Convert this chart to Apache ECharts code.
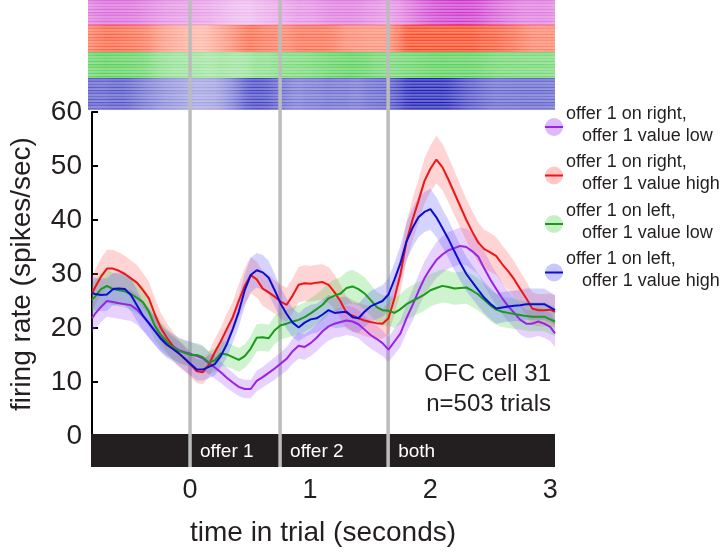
<!DOCTYPE html>
<html><head><meta charset="utf-8">
<script src="https://cdn.jsdelivr.net/npm/echarts@6/dist/echarts.min.js"></script>
<style>html,body{margin:0;padding:0;background:#fff}#c{width:723px;height:552px}</style>
</head><body><div id="c"></div>
<script>
// ---- data ----
const times = [-0.825,-0.8,-0.75,-0.7,-0.65,-0.6,-0.55,-0.5,-0.45,-0.4,-0.35,-0.3,-0.25,-0.2,-0.15,-0.1,-0.05,
0,0.05,0.1,0.15,0.2,0.25,0.3,0.35,0.4,0.45,0.5,0.55,0.6,0.65,0.7,0.75,0.8,0.85,0.9,0.95,
1,1.05,1.1,1.15,1.2,1.25,1.3,1.35,1.4,1.45,1.5,1.55,1.6,1.65,1.7,1.75,1.8,1.85,1.9,1.95,
2,2.05,2.1,2.15,2.2,2.25,2.3,2.35,2.4,2.45,2.5,2.55,2.6,2.65,2.7,2.75,2.8,2.85,2.9,2.95,3,3.04];

const seriesNames = ['offer 1 on right, offer 1 value low','offer 1 on right, offer 1 value high',
                     'offer 1 on left, offer 1 value low','offer 1 on left, offer 1 value high'];
const legendLine1 = ['offer 1 on right,','offer 1 on right,','offer 1 on left,','offer 1 on left,'];
const legendLine2 = ['offer 1 value low','offer 1 value high','offer 1 value low','offer 1 value high'];

const rightLow = [21.8,22.6,23.9,25.0,24.8,24.6,24.4,24.2,23.4,22.2,20.9,19.5,18.2,17.2,16.6,15.9,15.5,
15.2,14.8,14.4,13.5,12.7,11.8,10.8,9.9,9.1,8.7,
8.7,10.2,10.9,11.7,12.5,13.4,14.3,15.7,16.7,16.5,
17.2,18.2,19.4,20.3,20.8,21.1,21.4,21.2,20.7,19.7,
18.7,18.0,17.2,16.0,17.5,19.0,21.8,24.2,26.8,29.2,
31.0,32.6,33.6,34.4,34.8,35.2,35.0,34.2,33.2,31.0,
29.0,27.2,25.5,24.0,22.8,21.5,20.8,20.8,21.2,20.8,
20.2,19.0];
const rightLowSem = [2.7,2.8,2.8,2.9,2.9,2.9,2.9,2.9,2.8,2.7,2.7,2.6,2.5,2.4,2.4,2.3,2.3,
2.3,2.2,2.2,2.1,2.1,2.0,1.9,1.8,1.7,1.7,
1.7,1.9,1.9,2.0,2.1,2.1,2.2,2.3,2.4,2.4,
2.4,2.5,2.6,2.6,2.6,2.7,2.7,2.7,2.6,2.6,
2.5,2.5,2.4,2.3,2.4,2.5,2.7,2.9,3.0,3.1,
3.2,3.3,3.4,3.4,3.4,3.4,3.4,3.4,3.3,3.2,
3.1,3.0,2.9,2.8,2.8,2.7,2.6,2.6,2.7,2.6,
2.6,2.5];

const rightHigh = [26.4,27.5,29.5,31.0,31.0,30.6,30.0,29.2,28.4,27.0,25.5,22.5,20.0,18.2,16.7,15.3,14.3,
13.2,12.0,11.8,13.2,15.5,17.5,19.8,22.0,25.0,27.8,
29.8,29.0,27.3,26.6,25.8,24.9,24.3,26.0,28.0,28.3,
28.2,28.4,28.5,28.0,26.6,24.9,22.8,22.3,21.8,21.4,
21.1,20.9,20.8,21.8,25.5,30.0,36.0,40.0,43.5,47.2,
49.5,51.2,49.8,47.5,45.0,42.5,40.0,37.8,35.8,34.6,
34.0,33.3,31.8,30.5,29.0,27.2,25.5,23.6,23.3,23.3,
23.4,23.0];
const rightHighSem = [3.2,3.2,3.4,3.5,3.5,3.4,3.4,3.3,3.3,3.2,3.1,3.0,2.8,2.7,2.6,2.5,2.4,
2.3,2.2,2.2,2.3,2.5,2.6,2.8,2.9,3.1,3.3,
3.4,3.3,3.2,3.2,3.1,3.1,3.1,3.2,3.3,3.3,
3.3,3.3,3.3,3.3,3.2,3.1,3.0,2.9,2.9,2.9,
2.9,2.9,2.8,2.9,3.1,3.4,3.7,3.9,4.0,4.2,
4.3,4.4,4.3,4.2,4.1,4.0,3.9,3.8,3.7,3.6,
3.6,3.5,3.5,3.4,3.3,3.2,3.1,3.0,3.0,3.0,
3.0,3.0];

const leftLow = [25.2,25.8,27.2,27.8,27.2,27.0,26.8,26.3,25.6,24.8,23.0,20.4,18.7,17.5,16.4,15.8,15.4,
15.0,15.0,14.6,13.6,14.0,15.3,15.1,14.6,14.1,14.8,
16.2,18.2,18.3,18.1,19.6,20.5,20.8,21.2,21.5,22.0,
22.7,23.5,24.3,25.5,26.0,26.4,27.4,27.7,27.2,26.4,
25.2,23.9,23.3,23.2,22.8,23.5,24.4,25.0,25.6,26.2,
27.0,27.4,27.8,27.6,27.3,27.4,27.5,26.9,26.2,25.2,
24.2,23.4,23.0,22.8,22.6,22.4,22.2,22.1,22.1,22.1,
21.6,21.2];
const leftLowSem = [2.9,2.9,3.0,3.1,3.0,3.0,3.0,3.0,2.9,2.9,2.8,2.6,2.5,2.4,2.3,2.3,2.3,
2.2,2.2,2.2,2.1,2.2,2.3,2.3,2.2,2.2,2.2,
2.3,2.5,2.5,2.5,2.6,2.6,2.6,2.7,2.7,2.7,
2.8,2.8,2.9,2.9,3.0,3.0,3.0,3.1,3.0,3.0,
2.9,2.8,2.8,2.8,2.8,2.8,2.9,2.9,2.9,3.0,
3.0,3.0,3.1,3.0,3.0,3.0,3.0,3.0,3.0,2.9,
2.9,2.8,2.8,2.8,2.8,2.7,2.7,2.7,2.7,2.7,
2.7,2.7];

const leftHigh = [26.5,26.3,26.1,26.2,27.2,27.3,27.2,26.1,24.2,22.3,20.9,19.4,18.0,16.9,16.1,15.3,14.3,
13.3,12.3,12.3,12.8,13.3,14.8,17.0,19.8,23.0,27.0,
29.8,30.7,30.3,29.3,27.0,24.5,22.6,21.0,20.1,21.0,
21.6,21.8,22.5,23.3,22.8,22.9,23.0,22.0,21.8,23.0,
24.0,24.5,25.0,26.2,29.0,32.0,36.0,38.5,40.5,41.5,
42.0,40.5,38.5,36.5,34.2,32.0,30.0,28.5,27.0,25.6,
24.5,23.6,23.8,24.0,24.1,24.2,24.4,24.4,24.4,24.4,
23.8,23.3];
const leftHighSem = [3.0,3.0,3.0,3.0,3.0,3.0,3.0,3.0,2.9,2.7,2.7,2.6,2.5,2.4,2.3,2.3,2.2,
2.1,2.0,2.0,2.1,2.1,2.2,2.4,2.6,2.8,3.0,
3.2,3.2,3.2,3.1,3.0,2.9,2.8,2.7,2.6,2.7,
2.7,2.7,2.8,2.8,2.8,2.8,2.8,2.7,2.7,2.8,
2.8,2.9,2.9,3.0,3.1,3.3,3.5,3.6,3.7,3.7,
3.8,3.7,3.6,3.5,3.4,3.3,3.2,3.1,3.0,2.9,
2.9,2.8,2.8,2.8,2.8,2.9,2.9,2.9,2.9,2.9,
2.8,2.8];

const eventTimes = [0, 0.75, 1.65];
const epochLabels = ['', 'offer 1', 'offer 2', 'both'];
const xTickValues = [0, 1, 2, 3];
const cellLabel = ['OFC cell 31', 'n=503 trials'];

// ---- styling ----
const X_MIN = -0.825, X_MAX = 3.04, RASTER_MIN = -0.85;
const FONT = '"Liberation Sans", Arial, Helvetica, sans-serif';
const TXT = '#231f20';
const means = [rightLow, rightHigh, leftLow, leftHigh];
const sems = [rightLowSem, rightHighSem, leftLowSem, leftHighSem];
const lineColors = ['#9a22e8', '#f01414', '#1a9a1a', '#0c0cd2'];
const bandColors = ['rgba(170,90,255,0.28)', 'rgba(255,90,90,0.26)', 'rgba(70,205,70,0.26)', 'rgba(90,90,255,0.26)'];
const iconColors = ['#dcbaf8', '#ffc8c8', '#c6efc6', '#c8c8ff'];
const rasterRGB = [[200, 30, 200], [255, 60, 20], [30, 190, 30], [20, 20, 180]];
const rasterEdges = [0, 25, 52, 78, 110];   // pixel rows of the raster bands
const rowFactors = [1, 0.8, 0.93, 0.7, 0.88, 0.76, 0.97, 0.68];

const chart = echarts.init(document.getElementById('c'), null, {renderer: 'canvas'});
const series = [];

// raster (density shown from the same condition's rate)
series.push({
  type: 'custom', xAxisIndex: 1, yAxisIndex: 1, z: 1, silent: true, animation: false,
  data: [[0, 0], [0, 1], [0, 2], [0, 3]],
  renderItem: function (params, api) {
    const b = api.value(1);
    const rates = means[b];
    const c = rasterRGB[b];
    const yTop = api.coord([0, rasterEdges[b]])[1], yBot = api.coord([0, rasterEdges[b + 1]])[1];
    const xL = api.coord([RASTER_MIN, 0])[0], xR = api.coord([X_MAX, 0])[0];
    const children = [];
    const rowH = 1.5;
    let r = 0;
    for (let y = yTop; y < yBot - 0.01; y += rowH, r++) {
      const f = rowFactors[r % rowFactors.length];
      const stops = times.map((t, i) => {
        const op = Math.min(0.95, 0.1 + rates[i] / 44) * f;
        return {offset: (api.coord([t, 0])[0] - xL) / (xR - xL), color: 'rgba(' + c[0] + ',' + c[1] + ',' + c[2] + ',' + op.toFixed(3) + ')'};
      });
      stops.unshift({offset: 0, color: stops[0].color});
      children.push({type: 'rect', shape: {x: xL, y: y, width: xR - xL, height: Math.min(rowH, yBot - y)},
        style: {fill: {type: 'linear', x: 0, y: 0, x2: 1, y2: 0, colorStops: stops, global: false}}});
    }
    return {type: 'group', children: children};
  }
});

// epoch bar
const epochStarts = [X_MIN].concat(eventTimes);
const epochEnds = eventTimes.concat([X_MAX]);
series.push({
  type: 'custom', xAxisIndex: 2, yAxisIndex: 2, z: 1, silent: true, animation: false,
  data: epochStarts.map((s, i) => [s, epochEnds[i], i]),
  renderItem: function (params, api) {
    const i = api.value(2);
    const p0 = api.coord([api.value(0), 1]), p1 = api.coord([api.value(1), 0]);
    const children = [{type: 'rect', shape: {x: p0[0], y: p0[1], width: p1[0] - p0[0], height: p1[1] - p0[1]}, style: {fill: '#231f20'}}];
    if (epochLabels[i]) {
      children.push({type: 'text', x: p0[0] + 10, y: (p0[1] + p1[1]) / 2 + 1,
        style: {text: epochLabels[i], fill: '#ffffff', font: '19px ' + FONT, verticalAlign: 'middle', align: 'left'}});
    }
    return {type: 'group', children: children};
  }
});

// event lines
series.push({
  type: 'custom', xAxisIndex: 3, yAxisIndex: 3, z: 3, silent: true, animation: false,
  data: eventTimes.map(t => [t, 0]),
  renderItem: function (params, api) {
    const top = api.coord([api.value(0), 1]), bot = api.coord([api.value(0), 0]);
    return {type: 'line', shape: {x1: top[0], y1: top[1], x2: bot[0], y2: bot[1]},
      style: {stroke: '#bcbcbc', lineWidth: 3.5}};
  }
});

// error bands
means.forEach((m, k) => {
  series.push({
    type: 'custom', xAxisIndex: 0, yAxisIndex: 0, z: 4, silent: true, animation: false,
    data: [[0, 0]],
    renderItem: function (params, api) {
      const pts = [];
      for (let i = 0; i < times.length; i++) pts.push(api.coord([times[i], m[i] + sems[k][i]]));
      for (let i = times.length - 1; i >= 0; i--) pts.push(api.coord([times[i], m[i] - sems[k][i]]));
      return {type: 'polygon', shape: {points: pts}, style: {fill: bandColors[k]}};
    }
  });
});

// mean lines
means.forEach((m, k) => {
  series.push({
    type: 'line', name: seriesNames[k], xAxisIndex: 0, yAxisIndex: 0, z: 5, animation: false,
    showSymbol: false, symbol: 'none',
    lineStyle: {color: lineColors[k], width: 2},
    data: times.map((t, i) => [t, m[i]])
  });
});

// legend + annotation as graphics
const graphics = [];
legendLine1.forEach((l1, k) => {
  const y0 = 115 + k * 48.5;
  graphics.push({type: 'circle', left: 545, top: y0 + 3, shape: {r: 9}, style: {fill: iconColors[k]}, z: 10});
  graphics.push({type: 'rect', left: 545, top: y0 + 11, shape: {width: 18, height: 2}, style: {fill: lineColors[k]}, z: 11});
  graphics.push({type: 'text', left: 566, top: y0 - 10, style: {text: l1, fill: TXT, font: '18px ' + FONT}, z: 11});
  graphics.push({type: 'text', left: 582, top: y0 + 12, style: {text: legendLine2[k], fill: TXT, font: '18px ' + FONT}, z: 11});
});
graphics.push({type: 'text', right: 172, top: 362, style: {text: cellLabel[0], fill: TXT, font: '24px ' + FONT, align: 'right'}, z: 11});
graphics.push({type: 'text', right: 172, top: 392, style: {text: cellLabel[1], fill: TXT, font: '24px ' + FONT, align: 'right'}, z: 11});

const hidden = {show: false};
chart.setOption({
  animation: false,
  backgroundColor: '#ffffff',
  textStyle: {fontFamily: FONT},
  grid: [
    {left: 91, top: 112, width: 464, height: 324},
    {left: 88, top: 0, width: 467, height: 110},
    {left: 91, top: 434, width: 464, height: 33},
    {left: 91, top: 0, width: 464, height: 467}
  ],
  xAxis: [
    {gridIndex: 0, type: 'value', min: X_MIN, max: X_MAX, show: false},
    {gridIndex: 1, type: 'value', min: RASTER_MIN, max: X_MAX, show: false},
    {gridIndex: 2, type: 'value', min: X_MIN, max: X_MAX,
      axisLine: hidden, axisTick: {show: false, customValues: xTickValues}, splitLine: hidden,
      axisLabel: {customValues: xTickValues, fontSize: 27, color: TXT, margin: 10, fontFamily: FONT},
      name: 'time in trial (seconds)', nameLocation: 'middle', nameGap: 52,
      nameTextStyle: {fontSize: 28, color: TXT, fontFamily: FONT}},
    {gridIndex: 3, type: 'value', min: X_MIN, max: X_MAX, show: false}
  ],
  yAxis: [
    {gridIndex: 0, type: 'value', min: 0, max: 60, interval: 10,
      axisLine: {show: true, onZero: false, lineStyle: {color: '#000', width: 2}},
      axisTick: {show: true, inside: true, length: 6, lineStyle: {color: '#000', width: 2}},
      splitLine: hidden,
      axisLabel: {fontSize: 28, color: TXT, margin: 10, fontFamily: FONT},
      name: 'firing rate (spikes/sec)', nameLocation: 'middle', nameGap: 56, nameRotate: 90,
      nameTextStyle: {fontSize: 28, color: TXT, fontFamily: FONT}},
    {gridIndex: 1, type: 'value', min: 0, max: 110, inverse: true, show: false},
    {gridIndex: 2, type: 'value', min: 0, max: 1, show: false},
    {gridIndex: 3, type: 'value', min: 0, max: 1, show: false}
  ],
  series: series,
  graphic: graphics
});
</script>
</body></html>
